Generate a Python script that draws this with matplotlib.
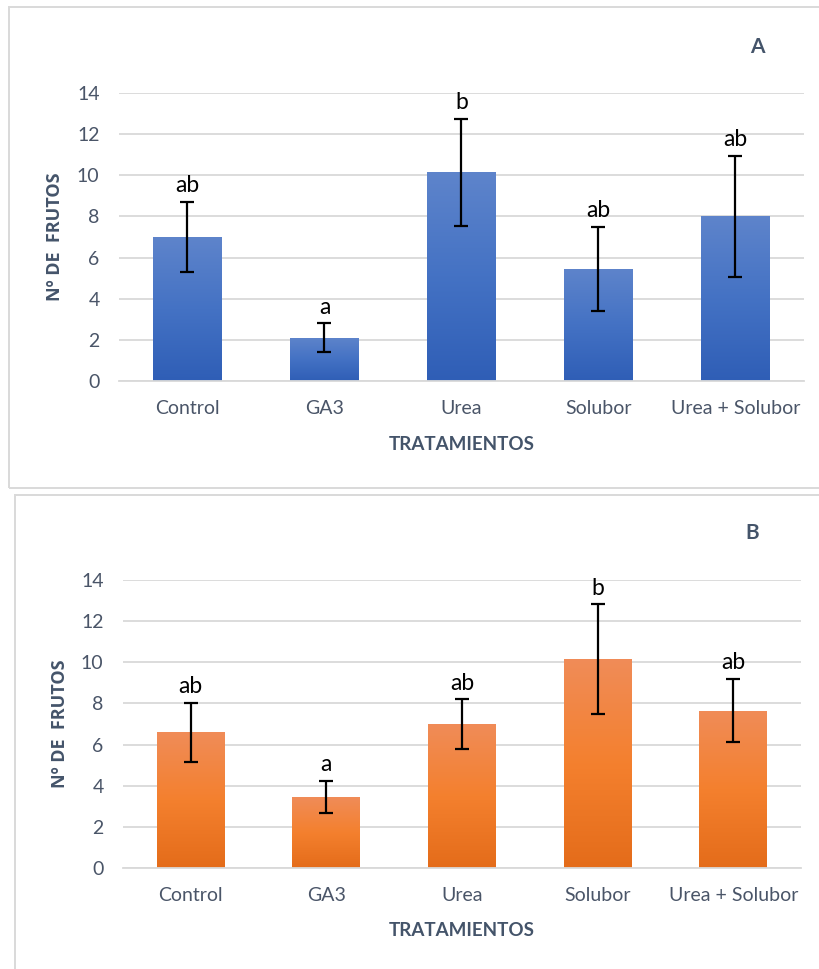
import matplotlib
matplotlib.use('Agg')
import matplotlib.pyplot as plt
import numpy as np
from matplotlib.colors import LinearSegmentedColormap
from matplotlib.patches import Rectangle

plt.rcParams['font.family'] = ['Lato', 'DejaVu Sans']

# datos: numero de frutos por tratamiento (media y error)
tratamientos = ['Control', 'GA3', 'Urea', 'Solubor', 'Urea + Solubor']

frutos_a = [7.0, 2.1, 10.15, 5.45, 8.0]
error_a = [1.7, 0.7, 2.6, 2.03, 2.96]
letras_a = ['ab', 'a', 'b', 'ab', 'ab']

frutos_b = [6.6, 3.45, 7.0, 10.15, 7.65]
error_b = [1.43, 0.77, 1.2, 2.67, 1.53]
letras_b = ['ab', 'a', 'ab', 'b', 'ab']

TITULO = '#44546A'
GRIS = '#D9D9D9'

azul = LinearSegmentedColormap.from_list('azul', ['#2F5EB6', '#4472C4', '#5E84CB'])
naranja = LinearSegmentedColormap.from_list('naranja', ['#E46C1A', '#F4802E', '#F08C58'])

W, H = 820, 969
fig = plt.figure(figsize=(W / 100, H / 100), dpi=100)

# marcos de cada panel
fig.patches.append(Rectangle((9 / W, 1 - 488 / H), 1.0, 481 / H, transform=fig.transFigure,
                             fill=False, edgecolor=GRIS, lw=1.4))
fig.patches.append(Rectangle((15 / W, -0.05), 1.0, 1 - 495 / H + 0.05, transform=fig.transFigure,
                             fill=False, edgecolor=GRIS, lw=1.4))


def panel(rect, valores, errores, letras, cmap, letra_panel, pos_letra):
    ax = fig.add_axes(rect)
    x = np.arange(len(tratamientos))
    barras = ax.bar(x, valores, width=0.5, color='none', zorder=2)
    grad = np.linspace(0, 1, 256).reshape(-1, 1)
    for b in barras:
        bx, by = b.get_x(), b.get_y()
        bw, bh = b.get_width(), b.get_height()
        im = ax.imshow(grad, extent=[bx, bx + bw, by, by + bh], origin='lower',
                       aspect='auto', cmap=cmap, zorder=2)
        im.set_clip_path(b)
    ax.errorbar(x, valores, yerr=errores, fmt='none', ecolor='black',
                elinewidth=1.6, capsize=5, capthick=1.6, zorder=3)
    for xi, v, e, t in zip(x, valores, errores, letras):
        ax.annotate(t, (xi, v + e), xytext=(0, 7), textcoords='offset points',
                    ha='center', va='baseline', fontsize=16.5, color='black')

    ax.set_xlim(-0.5, len(tratamientos) - 0.5)
    ax.set_ylim(0, 14)
    ax.set_yticks(range(0, 15, 2))
    ax.set_xticks(x)
    ax.set_xticklabels(tratamientos)
    ax.yaxis.grid(True, color=GRIS, lw=1.3)
    ax.set_axisbelow(True)
    for s in ['top', 'right', 'left']:
        ax.spines[s].set_visible(False)
    ax.spines['bottom'].set_color(GRIS)
    ax.spines['bottom'].set_linewidth(1.3)
    ax.tick_params(length=0, labelsize=14, labelcolor='#4A5568')
    ax.tick_params(axis='x', pad=14)
    ax.tick_params(axis='y', pad=14)
    ax.set_xlabel('TRATAMIENTOS', fontsize=13.5, fontweight='bold', color=TITULO, labelpad=13)
    ax.set_ylabel('Nº DE  FRUTOS', fontsize=13, fontweight='bold', color=TITULO,
                  family=['Open Sans', 'DejaVu Sans'])
    ax.yaxis.set_label_coords(-0.08, 0.5)
    fig.text(pos_letra[0] / W, 1 - pos_letra[1] / H, letra_panel, fontsize=15,
             fontweight='bold', color=TITULO, ha='center', va='center')
    return ax


panel([119 / W, 1 - 381 / H, 685 / W, 288 / H], frutos_a, error_a, letras_a,
      azul, 'A', (757, 47))
panel([123 / W, 1 - 868 / H, 678 / W, 288 / H], frutos_b, error_b, letras_b,
      naranja, 'B', (752, 533))

fig.savefig('out.png', dpi=100, facecolor='white')
